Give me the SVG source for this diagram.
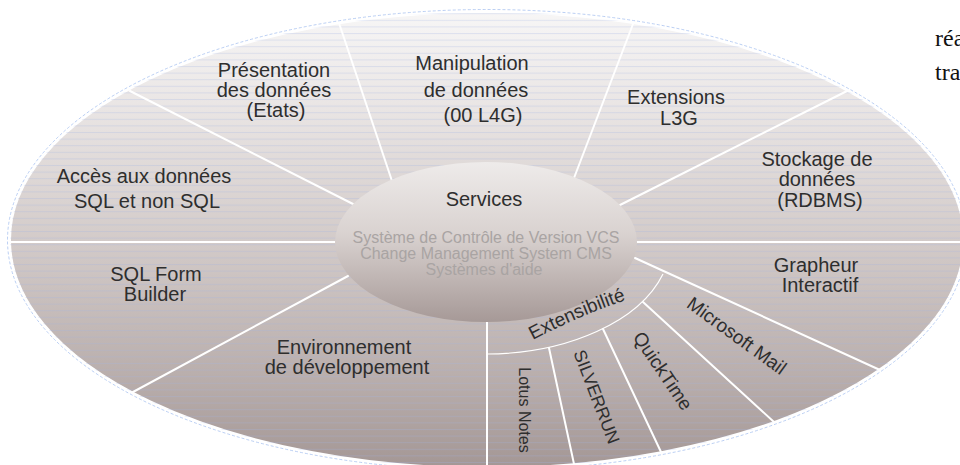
<svg xmlns="http://www.w3.org/2000/svg" width="960" height="465" viewBox="0 0 960 465">
<style>
.lbl{font-family:"Liberation Sans",Arial,sans-serif;font-size:20px;fill:#2e2e2e;text-anchor:middle}
.sub{font-family:"Liberation Sans",Arial,sans-serif;font-size:16px;fill:#a9a4a3;text-anchor:middle}
.div{stroke:#ffffff;stroke-width:2;fill:none;stroke-linecap:round}
.ring{stroke:#ffffff;stroke-width:1.2;fill:none}
.doc{font-family:"Liberation Serif","Times New Roman",serif;font-size:24px;fill:#111111}
</style>
<defs>
<linearGradient id="gOuter" x1="0" y1="0" x2="0" y2="1">
<stop offset="0" stop-color="#f7f6f6"/>
<stop offset="0.2" stop-color="#eae6e5"/>
<stop offset="0.5" stop-color="#d3cbc9"/>
<stop offset="0.8" stop-color="#b9aeac"/>
<stop offset="1" stop-color="#a49795"/>
</linearGradient>
<linearGradient id="gInner" x1="0" y1="0" x2="0" y2="1">
<stop offset="0" stop-color="#eeebea"/>
<stop offset="0.45" stop-color="#d9d2d0"/>
<stop offset="1" stop-color="#a69997"/>
</linearGradient>
<pattern id="stripes" patternUnits="userSpaceOnUse" width="20" height="6.6">
<line x1="0" y1="0.5" x2="20" y2="0.5" stroke="#9fb3e0" stroke-opacity="0.28" stroke-width="1"/>
</pattern>
</defs>

<g id="background">
<ellipse cx="487" cy="240" rx="479.5" ry="230.5" fill="none" stroke="#a9c3f0" stroke-width="0.8" stroke-dasharray="3 2"/>
<ellipse cx="487" cy="240" rx="477" ry="228" fill="url(#gOuter)" stroke="#ffffff" stroke-width="2"/>
<ellipse cx="487" cy="240" rx="477" ry="228" fill="url(#stripes)"/>
</g>

<g id="connectors">
<line class="div" x1="355" y1="205" x2="130" y2="91"/>
<line class="div" x1="392" y1="181" x2="339" y2="23"/>
<line class="div" x1="574" y1="178" x2="633" y2="24"/>
<line class="div" x1="620" y1="205" x2="847" y2="91"/>
<line class="div" x1="11" y1="242" x2="340" y2="242"/>
<line class="div" x1="630" y1="242" x2="963" y2="242"/>
<line class="div" x1="348" y1="276" x2="133" y2="392"/>
<line class="div" x1="635" y1="258" x2="880" y2="370"/>
<line class="div" x1="487" y1="320" x2="487" y2="468"/>
<line class="div" x1="643" y1="302" x2="774" y2="422"/>
<line class="div" x1="603" y1="329" x2="661" y2="452"/>
<line class="div" x1="549" y1="348" x2="574" y2="464"/>
<path class="ring" d="M 487 354 A 185 112 0 0 0 663 274"/>
</g>

<g id="services">
<ellipse cx="486" cy="242" rx="151" ry="80" fill="url(#gInner)"/>
<text class="lbl" x="484" y="206">Services</text>
<text class="sub" x="486" y="243">Système de Contrôle de Version VCS</text>
<text class="sub" x="486" y="259">Change Management System CMS</text>
<text class="sub" x="484" y="275">Systèmes d'aide</text>
</g>

<g id="presentation">
<text class="lbl" x="274" y="77">Présentation</text>
<text class="lbl" x="274" y="97">des données</text>
<text class="lbl" x="276" y="117">(Etats)</text>
</g>
<g id="manipulation">
<text class="lbl" x="472" y="70">Manipulation</text>
<text class="lbl" x="476" y="97">de données</text>
<text class="lbl" x="483" y="122">(00 L4G)</text>
</g>
<g id="extensions">
<text class="lbl" x="676" y="104">Extensions</text>
<text class="lbl" x="679" y="125">L3G</text>
</g>
<g id="stockage">
<text class="lbl" x="817" y="166">Stockage de</text>
<text class="lbl" x="817" y="186">données</text>
<text class="lbl" x="820" y="207">(RDBMS)</text>
</g>
<g id="acces">
<text class="lbl" x="144" y="183">Accès aux données</text>
<text class="lbl" x="147" y="208">SQL et non SQL</text>
</g>
<g id="sqlform">
<text class="lbl" x="156" y="281">SQL Form</text>
<text class="lbl" x="155" y="301">Builder</text>
</g>
<g id="environnement">
<text class="lbl" x="344" y="354">Environnement</text>
<text class="lbl" x="347" y="374">de développement</text>
</g>
<g id="grapheur">
<text class="lbl" x="816" y="272">Grapheur</text>
<text class="lbl" x="820" y="292">Interactif</text>
</g>
<g id="extensibilite">
<path id="extPath" d="M 518 348 Q 580 313.5 642 295" fill="none"/>
<text class="lbl" style="font-size:19px"><textPath href="#extPath" startOffset="50%">Extensibilité</textPath></text>
</g>
<g id="microsoftmail">
<text class="lbl" style="font-size:19px" transform="translate(733 341) rotate(36)">Microsoft Mail</text>
</g>
<g id="quicktime">
<text class="lbl" style="font-size:19px" transform="translate(657.5 374.5) rotate(56)">QuickTime</text>
</g>
<g id="silverrun">
<text class="lbl" style="font-size:17.5px" transform="translate(591 399) rotate(69)">SILVERRUN</text>
</g>
<g id="lotusnotes">
<text class="lbl" style="font-size:16px" transform="translate(519 410) rotate(90)">Lotus Notes</text>
</g>

<g id="doctext">
<text class="doc" x="935" y="46">réa</text>
<text class="doc" x="935" y="80">tra</text>
</g>
</svg>
